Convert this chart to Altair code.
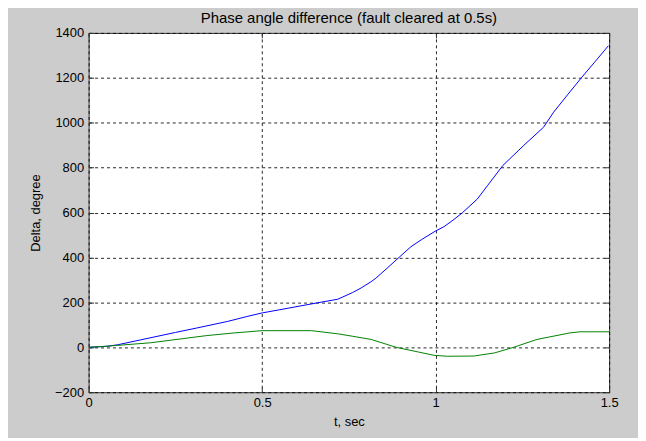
import altair as alt
import pandas as pd

# Blue curve (series 1)
blue_t = [0, 0.05, 0.083, 0.15, 0.25, 0.312, 0.4, 0.459, 0.5, 0.55, 0.656, 0.718,
          0.761, 0.785, 0.814, 0.828, 0.86, 0.895, 0.929, 0.96, 1.0, 1.024, 1.05,
          1.077, 1.12, 1.15, 1.194, 1.254, 1.311, 1.34, 1.38, 1.421, 1.46, 1.498]
blue_v = [0, 4, 11, 33, 66, 86, 115, 138, 153, 167, 197, 214,
          244, 264, 292, 308, 352, 401, 448, 480, 518, 537, 566,
          599, 660, 721, 810, 899, 980, 1047, 1124, 1202, 1273, 1343]

# Green curve (series 2)
green_t = [0, 0.054, 0.178, 0.34, 0.42, 0.5, 0.642, 0.718, 0.761, 0.814, 0.886,
           0.95, 0.996, 1.034, 1.11, 1.17, 1.225, 1.292, 1.387, 1.416, 1.5]
green_v = [0, 5, 20, 52, 64, 74, 74, 60, 49, 35, 0,
           -21, -36, -40, -39, -25, 0, 35, 64, 69, 69]

x_ticks = [0, 0.5, 1, 1.5]
y_ticks = [-200, 0, 200, 400, 600, 800, 1000, 1200, 1400]

df_blue = pd.DataFrame({"t": blue_t, "v": blue_v})
df_green = pd.DataFrame({"t": green_t, "v": green_v})

FONT = "Liberation Sans"
xs = alt.Scale(domain=[0, 1.5], nice=False, zero=False)
ys = alt.Scale(domain=[-200, 1400], nice=False, zero=False)

axis_common = dict(
    labelFont=FONT, labelFontSize=13, labelColor="#000", labelFlush=False,
    labelOverlap=False,
    titleFont=FONT, titleFontSize=13, titleFontWeight="normal", titleColor="#000",
    domain=False, ticks=True, tickSize=5, offset=-5, tickColor="#333",
    grid=True, gridColor="#000", gridDash=[3, 3], gridOpacity=0.85, gridWidth=1,
)

blue = alt.Chart(df_blue).mark_line(color="#0000ff", strokeWidth=1, clip=True).encode(
    x=alt.X("t:Q", scale=xs, axis=alt.Axis(values=x_ticks, title="t, sec", orient="bottom",
                                           labelPadding=4, titlePadding=6, format="~g",
                                           **axis_common)),
    y=alt.Y("v:Q", scale=ys, axis=alt.Axis(values=y_ticks, title="Delta, degree", orient="left",
                                           labelPadding=5, titlePadding=12, format="d",
                                           **axis_common)),
)

green = alt.Chart(df_green).mark_line(color="#008000", strokeWidth=1, clip=True).encode(
    x=alt.X("t:Q", scale=xs, axis=None),
    y=alt.Y("v:Q", scale=ys, axis=None),
)

ticks_only = dict(domain=False, labels=False, ticks=True, tickSize=5, offset=-5,
                  tickColor="#333", grid=False, title=None)

tick_layer = alt.Chart(df_blue).mark_line(opacity=0).encode(
    x=alt.X("t:Q", scale=xs, axis=alt.Axis(values=x_ticks, orient="top", **ticks_only)),
    y=alt.Y("v:Q", scale=ys, axis=alt.Axis(values=y_ticks, orient="right", **ticks_only)),
)

chart = alt.layer(blue, green, tick_layer).resolve_scale(
    x="independent", y="independent"
).resolve_axis(
    x="independent", y="independent"
).properties(
    width=523,
    height=361,
    background="#cccccc",
    padding={"left": 81, "top": 24, "right": 29, "bottom": 45},
    autosize=alt.AutoSizeParams(type="none"),
    title=alt.TitleParams(
        "Phase angle difference (fault cleared at 0.5s)",
        font=FONT, fontSize=15, fontWeight="normal", color="#000",
        anchor="middle", offset=1,
    ),
).configure_view(
    fill="#ffffff", stroke="#333333", strokeWidth=1
)

chart.save("out.html", embed_options={"renderer": "svg", "actions": False})
